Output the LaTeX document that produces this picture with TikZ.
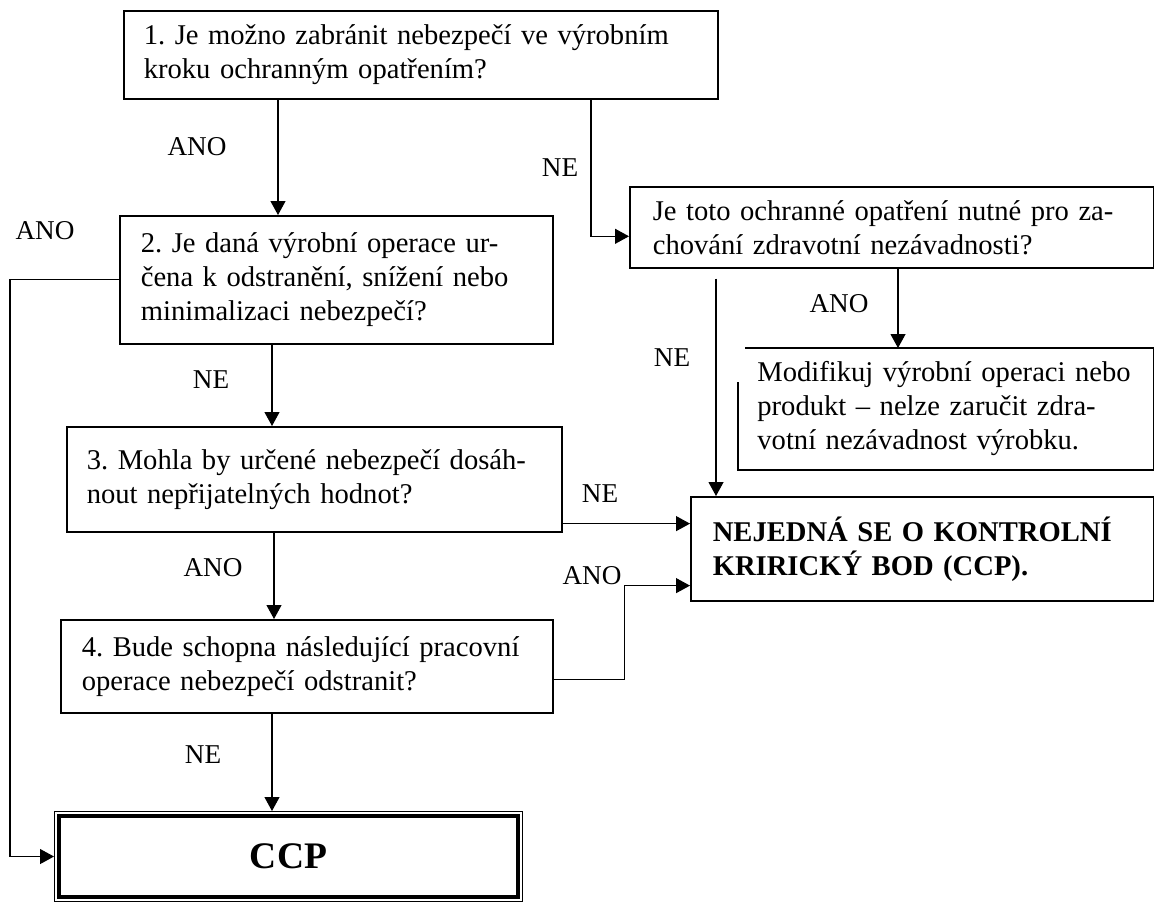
\documentclass[tikz,border=0pt]{standalone}
\usepackage{fontspec}
\setmainfont{Liberation Serif}
\usetikzlibrary{arrows.meta,positioning}
\frenchspacing

\tikzset{
  qbox/.style={draw, line width=0.8pt, anchor=north west, align=left, inner ysep=0pt},
  lbl/.style={inner sep=0pt, font=\fontsize{13.6pt}{15pt}\selectfont},
  arr/.style={line width=0.55pt, -{Triangle[length=7pt,width=7.5pt]}},
}

\begin{document}
\begin{tikzpicture}[x=0.5pt, y=-0.5pt, font=\fontsize{14.3pt}{17pt}\selectfont]
  \useasboundingbox (0,0) rectangle (1154,902);

  % Define nodes
  \node[qbox, inner xsep=10pt, text width=277pt, minimum height=44pt]     (q1) at (123,10)
    {1. Je možno zabránit nebezpečí ve výrobním\\kroku ochranným opatřením?};
  \node[qbox, inner xsep=10.5pt, text width=195.5pt, minimum height=64pt] (q2) at (119,215)
    {2. Je daná výrobní operace ur-\\čena k odstranění, snížení nebo\\minimalizaci nebezpečí?};
  \node[qbox, inner xsep=10pt, text width=227.5pt, minimum height=52.5pt] (q3) at (66,426)
    {3. Mohla by určené nebezpečí dosáh-\\nout nepřijatelných hodnot?};
  \node[qbox, inner xsep=10.5pt, text width=225pt, minimum height=46.5pt] (q4) at (60,619)
    {4. Bude schopna následující pracovní\\operace nebezpečí odstranit?};
  \node[qbox, inner xsep=11.5pt, text width=239pt, minimum height=40.5pt] (keep) at (629,186)
    {Je toto ochranné opatření nutné pro za-\\chování zdravotní nezávadnosti?};
  \node[anchor=north west, align=left, inner xsep=9.5pt, inner ysep=0pt, text width=188.5pt, minimum height=60.5pt] (modify) at (738,348)
    {Modifikuj výrobní operaci nebo\\produkt – nelze zaručit zdra-\\votní nezávadnost výrobku.};
  \node[qbox, inner xsep=11pt, text width=209.5pt, minimum height=52pt, font=\fontsize{14.3pt}{17pt}\selectfont\bfseries] (nocp) at (690,496)
    {NEJEDNÁ SE O KONTROLNÍ\\KRIRICKÝ BOD (CCP).};
  \node[draw, line width=0.5pt, anchor=north west, minimum width=234pt, minimum height=45pt,
        font=\fontsize{18.75pt}{22pt}\selectfont\bfseries] (ccp) at (54,811) {CCP};

  % Box outlines
  \draw[line width=1pt] ([xshift=3.5pt]modify.north west) -- (modify.north east) -- (modify.south east)
    -- (modify.south west) -- ([yshift=-17pt]modify.north west);
  \draw[line width=2.2pt] ([shift={(5,5)}]ccp.north west) rectangle ([shift={(-5,-5)}]ccp.south east);

  % Labels
  \node[lbl] (ano1) at (197,147) {ANO};
  \node[lbl] (ne1)  at (560,168) {NE};
  \node[lbl] (ano2) at (45,231)  {ANO};
  \node[lbl] (ne2)  at (211,380) {NE};
  \node[lbl] (ano3) at (839,304) {ANO};
  \node[lbl] (ne3)  at (672,358) {NE};
  \node[lbl] (ne4)  at (600,494) {NE};
  \node[lbl] (ano4) at (213,568) {ANO};
  \node[lbl] (ano5) at (592,576) {ANO};
  \node[lbl] (ne5)  at (203,755) {NE};

  % Connect the nodes
  \draw[arr] ([xshift=77.5pt]q1.south west) coordinate (a1) -- (a1 |- q2.north);
  \draw[arr] ([xshift=234pt]q1.south west) |- ([yshift=-4.5pt]keep.west);
  \draw[arr] (q2.west) -- ++(-109,0) |- (ccp.west);
  \draw[arr] ([xshift=76.5pt]q2.south west) coordinate (a2) -- (a2 |- q3.north);
  \draw[arr] ([yshift=4.5pt]q3.south east) coordinate (a3) -- (a3 -| nocp.west);
  \draw[arr] ([xshift=104pt]q3.south west) coordinate (a4) -- (a4 |- q4.north);
  \draw[arr] ([yshift=-6.75pt]q4.east) -- ++(71,0) |- ([yshift=8pt]nocp.south west);
  \draw[arr] ([xshift=106pt]q4.south west) coordinate (a5) -- (a5 |- ccp.north);
  \draw[arr] ([xshift=134.5pt]keep.south west) coordinate (a6) -- (a6 |- modify.north);
  \draw[arr] ([xshift=43.5pt,yshift=-5pt]keep.south west) coordinate (a7) -- (a7 |- nocp.north);
\end{tikzpicture}
\end{document}
